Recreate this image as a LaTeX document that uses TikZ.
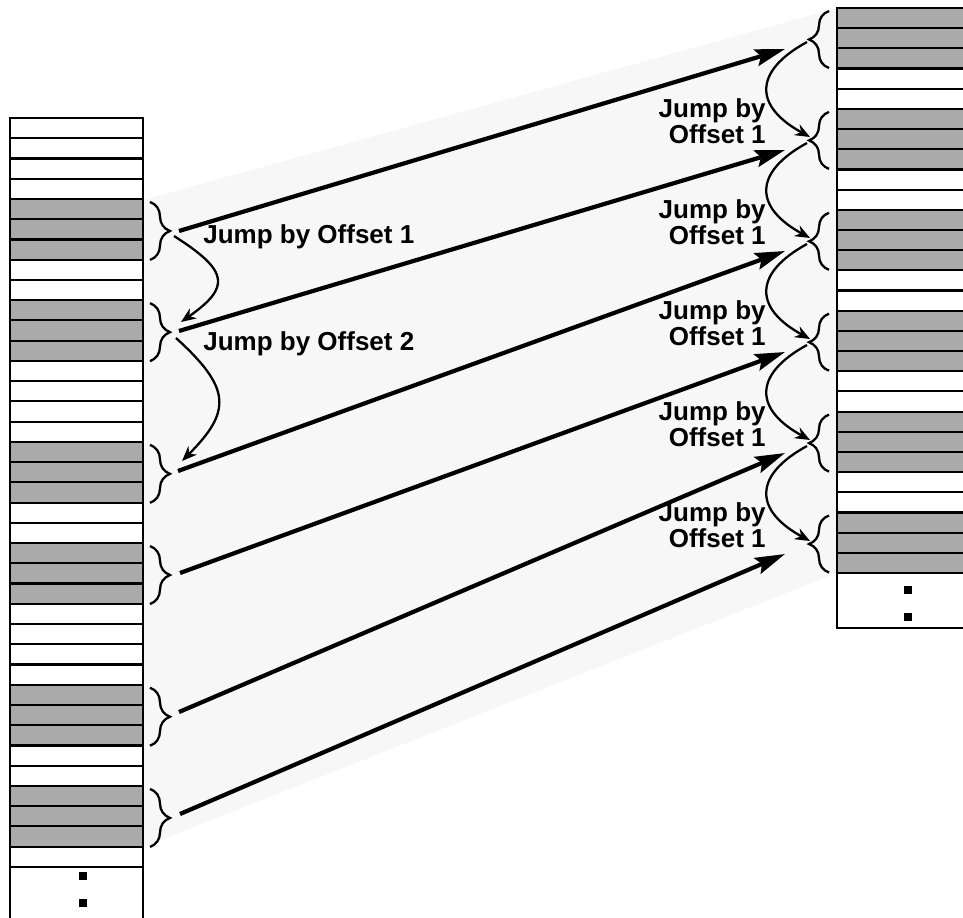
\documentclass[tikz,border=0pt]{standalone}
\usepackage{fontspec}
\setmainfont{Liberation Sans}
\usetikzlibrary{arrows.meta,decorations.pathreplacing}
\definecolor{slotgray}{HTML}{AAAAAA}
\definecolor{fangray}{HTML}{F7F7F7}
\tikzset{
  slotline/.style={line width=1.2pt},
  grpbrace/.style={decorate,decoration={brace,amplitude=0.4cm},line width=1.3pt},
  fetcharrow/.style={line width=2.4pt,-{Stealth[length=0.6cm,width=0.34cm,inset=0.1cm]}},
  jumparrow/.style={line width=1.3pt,-{Stealth[length=0.3cm,width=0.24cm]}},
  jumplabel/.style={font=\fontsize{14.8}{14.8}\selectfont\bfseries,inner sep=0pt},
  dotmark/.style={fill=black,minimum size=0.16cm,inner sep=0pt}
}
\begin{document}
\begin{tikzpicture}[x=0.02cm,y=-0.02cm]
        \useasboundingbox (0,0) rectangle (963,917);
        \clip (0,0) rectangle (963,917);

        % shaded band between the columns
        \fill[fangray] (143,200) -- (837,8) -- (837,573) -- (143,847) -- cycle;

        % left column
        \foreach \r in {4,9,16,21,28,33}
            \fill[slotgray] (10,118+20.24*\r) rectangle (143,118+20.24*\r+60.72);
        \foreach \k in {1,...,37}
            \draw[slotline] (10,118+20.24*\k) -- (143,118+20.24*\k);
        \draw[slotline] (10,930) -- (10,118) -- (143,118) -- (143,930);
        \node[dotmark] (ldot1) at (83,876) {};
        \node[dotmark] (ldot2) at (83,903) {};

        % right column
        \foreach \r in {0,5,10,15,20,25}
            \fill[slotgray] (837,8+20.18*\r) rectangle (980,8+20.18*\r+60.54);
        \foreach \k in {1,...,28}
            \draw[slotline] (837,8+20.18*\k) -- (980,8+20.18*\k);
        \draw[slotline] (980,8) -- (837,8) -- (837,628) -- (980,628);
        \node[dotmark] (rdot1) at (908,590) {};
        \node[dotmark] (rdot2) at (908,617) {};

        % braces
        \foreach \r in {4,9,16,21,28,33}
            \draw[grpbrace] (150,118+20.24*\r+3) -- (150,118+20.24*\r+61);
        \foreach \r in {0,5,10,15,20,25}
            \draw[grpbrace] (829,8+20.18*\r+60) -- (829,8+20.18*\r+3);

        % arrow ends
        \coordinate (src1) at (179,231);
        \coordinate (src2) at (179,331);
        \coordinate (src3) at (178,471);
        \coordinate (src4) at (180,573);
        \coordinate (src5) at (179,712);
        \coordinate (src6) at (180,814);
        \foreach \k in {1,...,6}
            \coordinate (dst\k) at (785,49+101*\k-101);

        \foreach \k in {1,...,6}
            \draw[fetcharrow] (src\k) -- (dst\k);

        % jumps on the left
        \coordinate (ljo1) at (174,236);
        \coordinate (lji2) at (181,322);
        \coordinate (ljo2) at (176,338);
        \coordinate (lji3) at (182,461);
        \draw[jumparrow] (ljo1) .. controls +(55,35) and +(50,-35) .. (lji2);
        \draw[jumparrow] (ljo2) .. controls +(55,50) and +(50,-50) .. (lji3);

        % jumps on the right
        \foreach \k in {1,...,5} {
            \coordinate (rjo\k) at (807,42+101*\k-101);
            \coordinate (rji\k) at (810,137+101*\k-101);
            \draw[jumparrow] (rjo\k) .. controls +(-55,30) and +(-55,-30) .. (rji\k);
        }

        \node[jumplabel,anchor=base west] (loff1) at (203,243) {Jump by Offset 1};
        \node[jumplabel,anchor=base west] (loff2) at (203,350) {Jump by Offset 2};
        \foreach \k in {1,...,5}
            \node[jumplabel,align=right,anchor=base east] (roff\k) at (766,143+101*\k-101) {Jump by\\Offset 1};
\end{tikzpicture}
\end{document}
